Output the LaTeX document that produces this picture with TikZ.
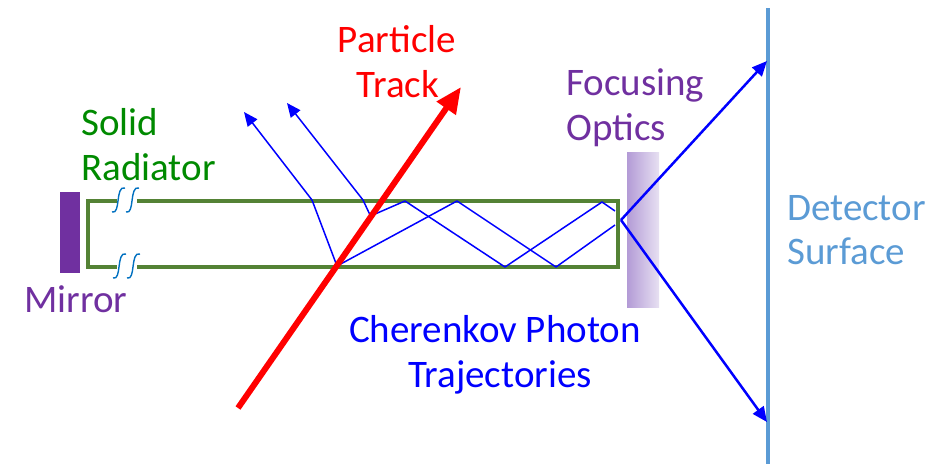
\documentclass[tikz,border=0pt]{standalone}
\usepackage{fontspec}
\setmainfont{Carlito}
\usetikzlibrary{arrows.meta}
\definecolor{trackred}{HTML}{FF0000}
\definecolor{radgreen}{HTML}{548235}
\definecolor{txtgreen}{HTML}{008A00}
\definecolor{mpurple}{HTML}{7030A0}
\definecolor{detblue}{HTML}{5B9BD5}
\definecolor{rayblue}{HTML}{0000FF}
\definecolor{brkblue}{HTML}{0070C0}
\definecolor{optL}{HTML}{B39BD6}
\definecolor{optR}{HTML}{E7E0F2}
\tikzset{
  lbl/.style={font=\fontsize{39}{45}\selectfont, inner sep=0pt, anchor=base west},
  lblc/.style={font=\fontsize{39}{45}\selectfont, inner sep=0pt, anchor=base},
  ray/.style={draw=rayblue, line width=1.5pt, line join=round},
  rayout/.style={draw=rayblue, line width=2.5pt, -{Triangle[length=15pt,width=13pt]}},
  rayarr/.style={ray, -{Triangle[length=14pt,width=12pt]}},
  box/.style={draw=radgreen, line width=4pt},
  brk/.style={draw=brkblue, line width=1.4pt},
}
\begin{document}
\begin{tikzpicture}[x=1pt,y=-1pt]
\useasboundingbox (0,0) rectangle (940,464);
% mirror
\fill[mpurple] (60,192) rectangle (80,273);
% focusing optics
\shade[left color=optL, right color=optR] (627,152) rectangle (659,307);
% detector surface
\draw[detblue, line width=4pt] (768,8) -- (768,464);
% radiator box with break
\draw[box] (117,201) -- (88,201) -- (88,267) -- (117,267);
\draw[box] (137,201) -- (618,201) -- (618,267) -- (137,267);
% break marks
\draw[brk] (112,212) .. controls (121,215) and (115,185) .. (125,188);
\draw[brk] (126,212) .. controls (135,215) and (129,185) .. (139,188);
\draw[brk] (113,278) .. controls (122,281) and (116,251) .. (126,254);
\draw[brk] (127,278) .. controls (136,281) and (130,251) .. (140,254);
% coordinates
\coordinate (A) at (337,266);
\coordinate (B) at (370.5,216);
\coordinate (F) at (621,220);
\coordinate (T0) at (238,408);
\coordinate (T1) at (461,87);
\coordinate (p1) at (312,200);
\coordinate (e1) at (244,112);
\coordinate (p2) at (363,200);
\coordinate (e2) at (287,103);
\coordinate (a1) at (457,201);
\coordinate (a2) at (556,267);
\coordinate (a3) at (615,225);
\coordinate (b1) at (405,201);
\coordinate (b2) at (505,267);
\coordinate (b3) at (602,202);
\coordinate (b4) at (615,211);
\coordinate (d1) at (767,61);
\coordinate (d2) at (767,422);
% photon rays
\draw[rayarr] (A) -- (p1) -- (e1);
\draw[rayarr] (B) -- (p2) -- (e2);
\draw[ray] (A) -- (a1) -- (a2) -- (a3);
\draw[ray] (B) -- (b1) -- (b2) -- (b3) -- (b4);
\draw[rayout] (F) -- (d1);
\draw[rayout] (F) -- (d2);
% particle track
\draw[trackred, line width=6pt, -{Triangle[length=26pt,width=22pt]}] (T0) -- (T1);
% labels
\node[lblc, text=trackred] (pt1) at (397,52) {Particle};
\node[lblc, text=trackred] (pt2) at (398,97) {Track};
\node[lbl, text=txtgreen] (sr1) at (81,135) {Solid};
\node[lbl, text=txtgreen] (sr2) at (81,180) {Radiator};
\node[lbl, text=mpurple] (mir) at (24,312) {Mirror};
\node[lbl, text=mpurple] (fo1) at (566,95) {Focusing};
\node[lbl, text=mpurple] (fo2) at (566,140) {Optics};
\node[lbl, text=detblue] (ds1) at (787,220) {Detector};
\node[lbl, text=detblue] (ds2) at (787,264) {Surface};
\node[lblc, text=rayblue] (ch1) at (495,342) {Cherenkov Photon};
\node[lblc, text=rayblue] (ch2) at (500,387) {Trajectories};
\end{tikzpicture}
\end{document}
